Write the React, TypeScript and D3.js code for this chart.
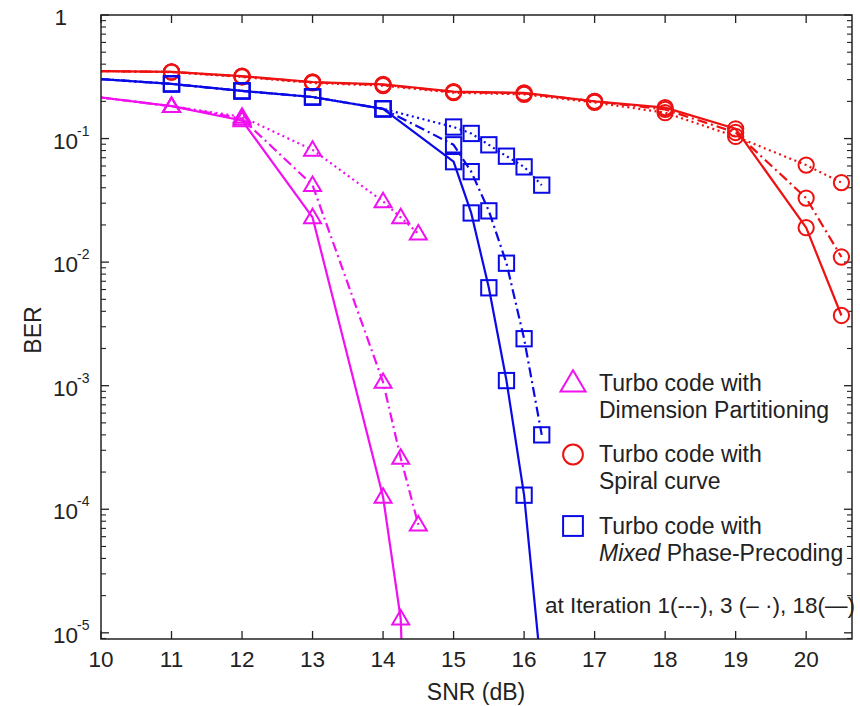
import React from "react";
import * as d3 from "d3";

// SNR values (dB) for each scheme
const snrDP = [10, 11, 12, 13, 14, 14.25, 14.5];
const snrDP18 = [10, 11, 12, 13, 14, 14.25, 14.3];
const snrSpiral = [10, 11, 12, 13, 14, 15, 16, 17, 18, 19, 20, 20.5];
const snrMP = [10, 11, 12, 13, 14, 15, 15.25, 15.5, 15.75, 16, 16.25];

// BER: Dimension Partitioning (magenta triangles)
const dpIter1 = [0.215, 0.183, 0.15, 0.081, 0.031, 0.023, 0.017];
const dpIter3 = [0.215, 0.183, 0.145, 0.042, 0.00107, 0.00026, 0.000075];
const dpIter18 = [0.215, 0.183, 0.14, 0.023, 0.000126, 0.000013, 0.000002];

// BER: Spiral curve (red circles)
const spIter1 = [0.352, 0.345, 0.315, 0.282, 0.268, 0.235, 0.228, 0.196, 0.162, 0.104, 0.061, 0.044];
const spIter3 = [0.352, 0.346, 0.318, 0.285, 0.272, 0.238, 0.232, 0.2, 0.172, 0.112, 0.033, 0.011];
const spIter18 = [0.352, 0.346, 0.32, 0.287, 0.275, 0.24, 0.234, 0.2, 0.178, 0.12, 0.019, 0.0037];

// BER: Mixed Phase-Precoding (blue squares)
const mpIter1 = [0.303, 0.277, 0.243, 0.217, 0.174, 0.124, 0.11, 0.089, 0.072, 0.059, 0.042];
const mpIter3 = [0.303, 0.277, 0.243, 0.217, 0.174, 0.089, 0.054, 0.026, 0.0098, 0.0024, 0.0004];
const mpIter18 = [0.303, 0.277, 0.243, 0.217, 0.174, 0.065, 0.025, 0.0062, 0.0011, 0.00013, 0.0000045];

const xTicks = [10, 11, 12, 13, 14, 15, 16, 17, 18, 19, 20];
const yDecades = [0, -1, -2, -3, -4, -5];

const legendItems = [
  { marker: "triangle", color: "#f010f0", lines: ["Turbo code with", "Dimension Partitioning"] },
  { marker: "circle", color: "#ee1111", lines: ["Turbo code with", "Spiral curve"] },
  { marker: "square", color: "#0a0ae6", lines: ["Turbo code with", "Mixed|Phase-Precoding"] },
];

const W = 860;
const H = 706;
const left = 101;
const right = 852;
const top = 15;
const bottom = 639;

const font = "'Liberation Sans', Arial, sans-serif";

const dotted = "2 3.5";
const dashDot = "10 4 2 4";

export default function App() {
  const x = d3.scaleLinear().domain([10, 20.65]).range([left, right]);
  const y = d3.scaleLog().domain([Math.pow(10, -5.05), 1]).range([bottom, top]);

  const line = d3
    .line<[number, number]>()
    .x((d) => x(d[0]))
    .y((d) => y(d[1]));

  const series = [
    { xs: snrDP, ys: dpIter1, color: "#f010f0", dash: dotted, marker: "triangle" },
    { xs: snrDP, ys: dpIter3, color: "#f010f0", dash: dashDot, marker: "triangle" },
    { xs: snrDP18, ys: dpIter18, color: "#f010f0", dash: "", marker: "triangle" },
    { xs: snrSpiral, ys: spIter1, color: "#ee1111", dash: dotted, marker: "circle" },
    { xs: snrSpiral, ys: spIter3, color: "#ee1111", dash: dashDot, marker: "circle" },
    { xs: snrSpiral, ys: spIter18, color: "#ee1111", dash: "", marker: "circle" },
    { xs: snrMP, ys: mpIter1, color: "#0a0ae6", dash: dotted, marker: "square" },
    { xs: snrMP, ys: mpIter3, color: "#0a0ae6", dash: dashDot, marker: "square" },
    { xs: snrMP, ys: mpIter18, color: "#0a0ae6", dash: "", marker: "square" },
  ];

  const drawMarker = (kind: string, cx: number, cy: number, color: string, s: number, key: string) => {
    if (kind === "circle")
      return <circle key={key} cx={cx} cy={cy} r={s * 0.45} fill="none" stroke={color} strokeWidth={2} />;
    if (kind === "square")
      return (
        <rect key={key} x={cx - s * 0.45} y={cy - s * 0.45} width={s * 0.9} height={s * 0.9} fill="none" stroke={color} strokeWidth={2} />
      );
    const h = s * 0.85;
    const pts = `${cx},${cy - h * 0.6} ${cx + s / 2},${cy + h * 0.4} ${cx - s / 2},${cy + h * 0.4}`;
    return <polygon key={key} points={pts} fill="none" stroke={color} strokeWidth={2} />;
  };

  // minor ticks for log axis
  const minorY: number[] = [];
  yDecades.forEach((e) => {
    for (let m = 2; m <= 9; m++) {
      const v = m * Math.pow(10, e - 1);
      if (v >= y.domain()[0] && v <= 1) minorY.push(v);
    }
  });

  return (
    <svg width={W} height={H} style={{ position: "absolute", left: 0, top: 0, background: "#fff" }}>
      <defs>
        <clipPath id="plot">
          <rect x={left} y={top} width={right - left} height={bottom - top} />
        </clipPath>
      </defs>

      {/* ticks */}
      {xTicks.map((t) => (
        <g key={"xt" + t} stroke="#222" strokeWidth={1.3}>
          <line x1={x(t)} x2={x(t)} y1={bottom} y2={bottom - 8} />
          <line x1={x(t)} x2={x(t)} y1={top} y2={top + 8} />
        </g>
      ))}
      {yDecades.map((e) => (
        <g key={"yt" + e} stroke="#222" strokeWidth={1.3}>
          <line x1={left} x2={left + 8} y1={y(Math.pow(10, e))} y2={y(Math.pow(10, e))} />
          <line x1={right} x2={right - 8} y1={y(Math.pow(10, e))} y2={y(Math.pow(10, e))} />
        </g>
      ))}
      {minorY.map((v, i) => (
        <g key={"ym" + i} stroke="#222" strokeWidth={1.1}>
          <line x1={left} x2={left + 5} y1={y(v)} y2={y(v)} />
          <line x1={right} x2={right - 5} y1={y(v)} y2={y(v)} />
        </g>
      ))}

      {/* curves */}
      <g clipPath="url(#plot)">
        {series.map((s, i) => (
          <path
            key={"l" + i}
            d={line(s.xs.map((v, j) => [v, s.ys[j]] as [number, number])) || ""}
            fill="none"
            stroke={s.color}
            strokeWidth={2.2}
            strokeLinejoin="round"
            strokeDasharray={s.dash || undefined}
          />
        ))}
        {series.map((s, i) =>
          s.xs.map((v, j) =>
            v > 10 ? drawMarker(s.marker, x(v), y(s.ys[j]), s.color, 17, `m${i}-${j}`) : null
          )
        )}
      </g>

      {/* frame */}
      <rect x={left} y={top} width={right - left} height={bottom - top} fill="none" stroke="#222" strokeWidth={1.5} />

      {/* tick labels */}
      <g fontFamily={font} fill="#222">
        {xTicks.map((t) => (
          <text key={"xl" + t} x={x(t)} y={667} fontSize={22.5} textAnchor="middle">
            {t}
          </text>
        ))}
        {yDecades.map((e) =>
          e === 0 ? (
            <text key={"yl" + e} x={67} y={y(1) + 10} fontSize={22.5} textAnchor="end">
              1
            </text>
          ) : (
            <g key={"yl" + e}>
              <text x={78} y={y(Math.pow(10, e)) + 10} fontSize={22.5} textAnchor="end">
                10
              </text>
              <text x={77} y={y(Math.pow(10, e)) - 3} fontSize={14}>
                {e}
              </text>
            </g>
          )
        )}
        <text x={476} y={700} fontSize={23} textAnchor="middle">
          SNR (dB)
        </text>
        <text transform="translate(41,330) rotate(-90)" fontSize={23} textAnchor="middle">
          BER
        </text>
      </g>

      {/* legend */}
      <g fontFamily={font} fill="#222" fontSize={23}>
        {legendItems.map((it, i) => {
          const cy = 383 + i * 71.5;
          return (
            <g key={"lg" + i}>
              {drawMarker(it.marker, 573, cy, it.color, it.marker === "triangle" ? 25 : 22, "lm" + i)}
              <text x={599} y={cy + 7.5}>
                {it.lines[0]}
              </text>
              <text x={599} y={cy + 34.5}>
                {it.lines[1].includes("|") ? (
                  <>
                    <tspan fontStyle="italic">{it.lines[1].split("|")[0]}</tspan>
                    <tspan> {it.lines[1].split("|")[1]}</tspan>
                  </>
                ) : (
                  it.lines[1]
                )}
              </text>
            </g>
          );
        })}
        <text x={545} y={613} fontSize={22.5}>
          at Iteration 1(---), 3 (– ·), 18(—)
        </text>
      </g>
    </svg>
  );
}
